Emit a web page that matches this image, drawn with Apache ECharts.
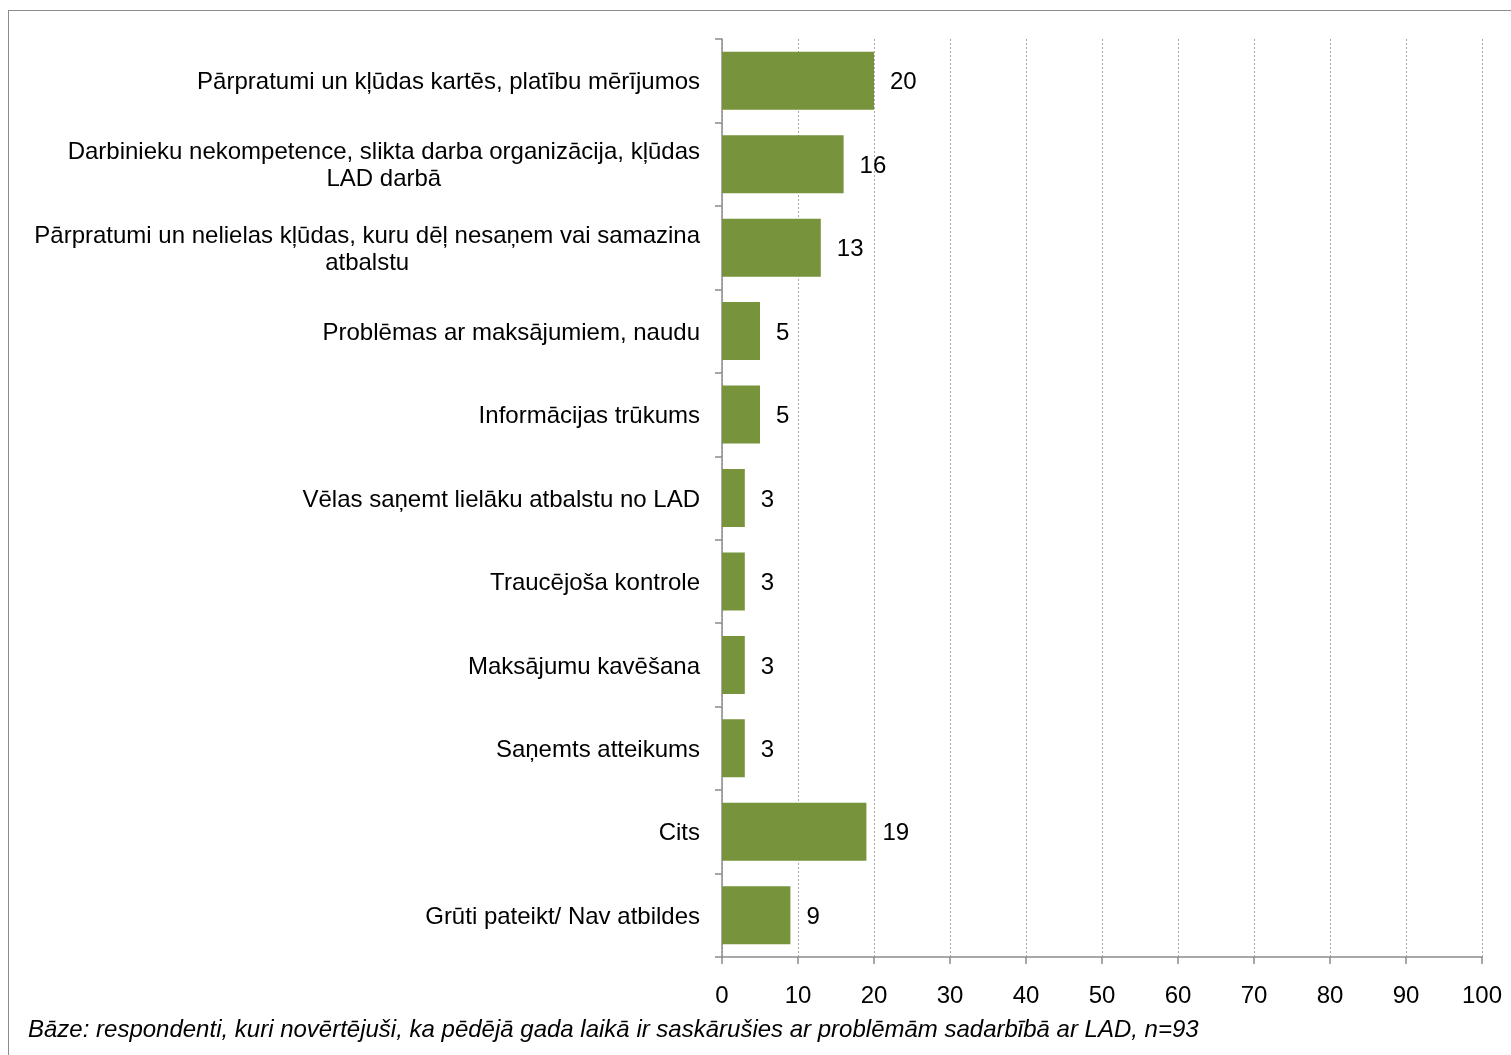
<!DOCTYPE html>
<html>
<head>
<meta charset="utf-8">
<script src="https://cdn.jsdelivr.net/npm/echarts@6/dist/echarts.min.js"></script>
<style>
  html, body { margin: 0; padding: 0; background: #fff; }
  #frame { position: absolute; left: 8px; top: 10px; width: 1600px; height: 1200px;
           border-left: 1.5px solid #8c8c8c; border-top: 1.5px solid #8c8c8c; }
  #chart { position: absolute; left: 0; top: 0; width: 1511px; height: 1055px; }
</style>
</head>
<body>
<div id="frame"></div>
<div id="chart"></div>
<script>
// Problems met in cooperation with LAD (share of respondents, %)
const categories = [
  'Pārpratumi un kļūdas kartēs, platību mērījumos',
  'Darbinieku nekompetence, slikta darba organizācija, kļūdas\nLAD darbā',
  'Pārpratumi un nelielas kļūdas, kuru dēļ nesaņem vai samazina\natbalstu',
  'Problēmas ar maksājumiem, naudu',
  'Informācijas trūkums',
  'Vēlas saņemt lielāku atbalstu no LAD',
  'Traucējoša kontrole',
  'Maksājumu kavēšana',
  'Saņemts atteikums',
  'Cits',
  'Grūti pateikt/ Nav atbildes'
];
const values = [20, 16, 13, 5, 5, 3, 3, 3, 3, 19, 9];
const axisTicks = [0, 10, 20, 30, 40, 50, 60, 70, 80, 90, 100];
const footnote = 'Bāze: respondenti, kuri novērtējuši, ka pēdējā gada laikā ir saskārušies ar problēmām sadarbībā ar LAD, n=93';

const FONT = '"Liberation Sans", Arial, sans-serif';
const FS = 24;
const chart = echarts.init(document.getElementById('chart'), null, { renderer: 'canvas' });

chart.setOption({
  backgroundColor: 'transparent',
  animation: false,
  grid: { left: 722, right: 29, top: 39, bottom: 98, containLabel: false },
  xAxis: {
    type: 'value',
    min: axisTicks[0],
    max: axisTicks[axisTicks.length - 1],
    interval: 10,
    axisLine: { show: true, lineStyle: { color: '#8c8c8c', width: 1.5 } },
    axisTick: { show: true, length: 7, lineStyle: { color: '#8c8c8c', width: 1.5 } },
    axisLabel: { color: '#000', fontFamily: FONT, fontSize: FS, margin: 27 },
    splitLine: { show: true, lineStyle: { color: '#a6a6a6', type: [2, 2], width: 1 } }
  },
  yAxis: {
    type: 'category',
    inverse: true,
    data: categories,
    axisLine: { show: true, lineStyle: { color: '#8c8c8c', width: 1.5 } },
    axisTick: { show: true, length: 7, lineStyle: { color: '#8c8c8c', width: 1.5 } },
    axisLabel: {
      color: '#000', fontFamily: FONT, fontSize: FS, margin: 22, lineHeight: 27,
      padding: [4, 0, 0, 0],
      formatter: v => v.split('\n').map(s => '{c|' + s + '}').join('\n'),
      rich: { c: { align: 'center', color: '#000', fontFamily: FONT, fontSize: FS, lineHeight: 27 } }
    }
  },
  series: [{
    type: 'bar',
    data: values,
    barWidth: 58,
    itemStyle: { color: '#77933C' },
    label: { show: true, position: 'right', distance: 16, offset: [0, 2], color: '#000', fontFamily: FONT, fontSize: FS }
  }],
  graphic: [{
    type: 'text', left: 28, top: 1018,
    style: { text: footnote, fill: '#000', font: 'italic ' + FS + 'px ' + FONT }
  }]
});
</script>
</body>
</html>
